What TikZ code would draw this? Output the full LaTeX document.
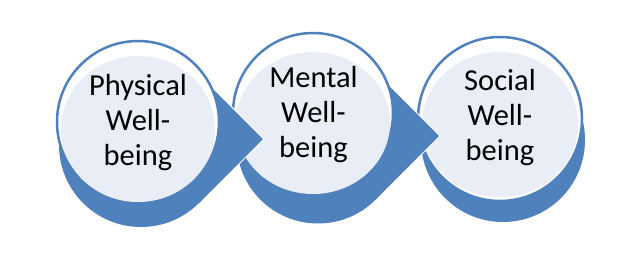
\documentclass[tikz,border=0pt]{standalone}
\usepackage{fontspec}
\setmainfont{Carlito}
\definecolor{accblue}{RGB}{79,129,189}
\definecolor{lightfill}{RGB}{233,238,246}
\newcommand{\threelines}[3]{\vtop{\baselineskip=35pt\lineskiplimit=-50pt\halign{\hfil##\hfil\cr #1\cr #2\cr #3\cr}}}
\begin{document}
\begin{tikzpicture}[x=1pt,y=-1pt,
  whiteedge/.style={draw=white,line width=2.4pt,line join=round},
  blueshape/.style={fill=accblue},
  ring/.style={draw=accblue,line width=2.5pt,fill=white},
  face/.style={fill=lightfill},
  lbl/.style={anchor=base,inner sep=0pt,font=\fontsize{30.5}{35}\selectfont}]
\useasboundingbox (0,0) rectangle (629,255);
% ---- unit 3
\coordinate (s3) at (503,140);
\coordinate (c3) at (500,119);
\coordinate (f3) at (500,124.5);
\path[whiteedge] (s3) circle[radius=82pt];
\fill[blueshape] (s3) circle[radius=82pt];
\draw[ring] (c3) circle[radius=82pt];
\fill[face] (f3) ellipse[x radius=78pt,y radius=72.5pt];
\node[lbl] (t3) at (500,90) {\threelines{Social}{Well-}{being}};
% ---- unit 2
\coordinate (s2) at (318,142);
\coordinate (c2) at (313,113);
\coordinate (f2) at (313,123);
\coordinate (u2) at (364.5,61.5);
\coordinate (tip2) at (439,136);
\coordinate (l2) at (375.5,199.5);
\path[whiteedge] (s2) circle[radius=81.5pt];
\path[whiteedge] (c2) -- (u2) -- (tip2) -- (l2) -- (s2) -- cycle;
\fill[blueshape] (s2) circle[radius=81.5pt];
\fill[blueshape] (c2) -- (u2) -- (tip2) -- (l2) -- (s2) -- cycle;
\draw[ring] (c2) circle[radius=80pt];
\fill[face] (f2) ellipse[x radius=77pt,y radius=71pt];
\node[lbl] (t2) at (313.5,87) {\threelines{Mental}{Well-}{being}};
% ---- unit 1
\coordinate (s1) at (141,145);
\coordinate (c1) at (138,122);
\coordinate (f1) at (138,129);
\coordinate (u1) at (192,68);
\coordinate (tip1) at (263,139);
\coordinate (l1) at (199,203);
\path[whiteedge] (s1) circle[radius=82pt];
\path[whiteedge] (c1) -- (u1) -- (tip1) -- (l1) -- (s1) -- cycle;
\fill[blueshape] (s1) circle[radius=82pt];
\fill[blueshape] (c1) -- (u1) -- (tip1) -- (l1) -- (s1) -- cycle;
\draw[ring] (c1) circle[radius=81pt];
\fill[face] (f1) ellipse[x radius=77pt,y radius=73pt];
\node[lbl] (t1) at (138,95) {\threelines{Physical}{Well-}{being}};
\end{tikzpicture}
\end{document}
